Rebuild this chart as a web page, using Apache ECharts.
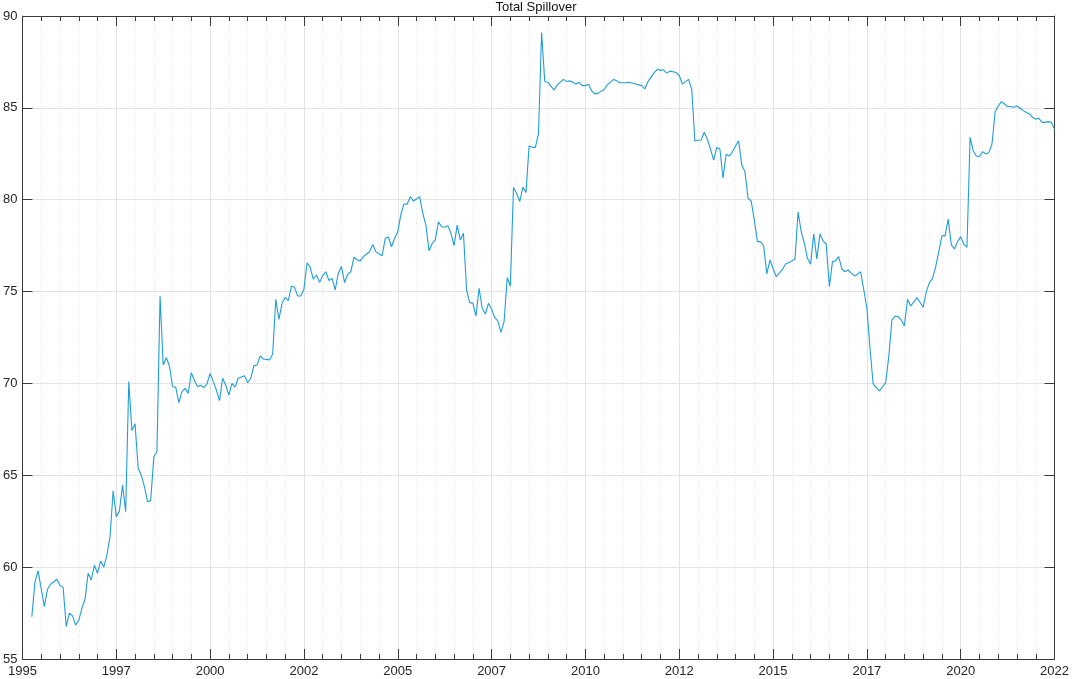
<!DOCTYPE html>
<html>
<head>
<meta charset="utf-8">
<script src="https://cdn.jsdelivr.net/npm/echarts@6/dist/echarts.min.js"></script>
<style>
html,body{margin:0;padding:0;background:#fff;}
#chart{width:1072px;height:679px;}
</style>
</head>
<body>
<div id="chart"></div>
<script>
const titleText = "Total Spillover";
const dates = [
"1995-04","1995-05","1995-06","1995-08","1995-09","1995-10","1995-12",
"1996-01","1996-02","1996-03","1996-04","1996-05","1996-06","1996-07","1996-08","1996-09","1996-10","1996-11","1996-12",
"1997-01","1997-02","1997-03","1997-04","1997-05","1997-06","1997-07","1997-08","1997-09","1997-10","1997-11","1997-12",
"1998-01","1998-02","1998-03","1998-04","1998-05","1998-06","1998-07","1998-08","1998-09","1998-10","1998-11","1998-12",
"1999-01","1999-02","1999-03","1999-04","1999-05","1999-06","1999-07","1999-08","1999-09","1999-10","1999-11","1999-12",
"2000-01","2000-02","2000-03","2000-04","2000-05","2000-06","2000-07","2000-08","2000-09","2000-10","2000-12",
"2001-01","2001-02","2001-03","2001-04","2001-05","2001-06","2001-08","2001-09","2001-10","2001-11","2001-12",
"2002-01","2002-02","2002-03","2002-04","2002-05","2002-06","2002-07","2002-08","2002-09","2002-10","2002-11","2002-12",
"2003-01","2003-02","2003-03","2003-04","2003-05","2003-06","2003-07","2003-08","2003-09","2003-10","2003-11","2003-12",
"2004-01","2004-02","2004-03","2004-04","2004-05","2004-06","2004-07","2004-08","2004-09","2004-10","2004-11","2004-12",
"2005-01","2005-02","2005-03","2005-04","2005-05","2005-06","2005-07","2005-08","2005-09","2005-10","2005-11","2005-12",
"2006-01","2006-02","2006-03","2006-04","2006-05","2006-06","2006-07","2006-08","2006-09","2006-10","2006-11","2006-12",
"2007-01","2007-02","2007-03","2007-04","2007-05","2007-06","2007-07","2007-08","2007-09","2007-10","2007-11","2007-12",
"2008-01","2008-02","2008-03","2008-04","2008-05","2008-06","2008-07","2008-08","2008-09","2008-10","2008-11","2008-12",
"2009-01","2009-03","2009-04","2009-06","2009-07","2009-08","2009-10","2009-11","2009-12",
"2010-01","2010-02","2010-03","2010-04","2010-05","2010-07","2010-08","2010-10","2010-11","2010-12",
"2011-02","2011-03","2011-05","2011-07","2011-08","2011-09","2011-11","2011-12",
"2012-01","2012-02","2012-03","2012-04","2012-06","2012-07","2012-08","2012-09","2012-10","2012-11","2012-12",
"2013-01","2013-02","2013-03","2013-04","2013-05","2013-06","2013-07","2013-08","2013-09","2013-10","2013-11","2013-12",
"2014-01","2014-02","2014-03","2014-04","2014-05","2014-06","2014-07","2014-08","2014-09","2014-10","2014-11","2014-12",
"2015-01","2015-02","2015-03","2015-04","2015-05","2015-06","2015-07","2015-08","2015-09","2015-10","2015-11","2015-12",
"2016-01","2016-02","2016-03","2016-04","2016-05","2016-06","2016-07","2016-08","2016-09","2016-10","2016-11","2016-12",
"2017-01","2017-02","2017-03","2017-04","2017-05","2017-06","2017-07","2017-08","2017-09","2017-10","2017-11",
"2018-01","2018-02","2018-03","2018-04","2018-05","2018-06","2018-07","2018-08","2018-09","2018-10","2018-11","2018-12",
"2019-01","2019-02","2019-03","2019-04","2019-05","2019-06","2019-07","2019-08","2019-09","2019-10","2019-11","2019-12",
"2020-01","2020-02","2020-03","2020-04","2020-05","2020-06","2020-07","2020-08","2020-09","2020-10","2020-11","2020-12",
"2021-01","2021-02","2021-03","2021-04","2021-05","2021-06","2021-07","2021-08","2021-09","2021-10","2021-11","2021-12",
"2022-01","2022-02","2022-03","2022-04","2022-05","2022-06","2022-07"
];
const spillover = [
57.3,59.2,59.8,57.85,58.8,59.07,59.34,
59.0,58.9,56.76,57.5,57.35,56.85,57.1,57.76,58.25,59.67,59.3,60.1,
59.67,60.33,60.0,60.66,61.65,64.16,62.75,63.05,64.47,63.02,70.1,67.43,
67.8,65.38,65.0,64.38,63.56,63.62,66.0,66.28,74.76,71.0,71.4,70.95,
69.82,69.8,68.95,69.55,69.73,69.46,70.58,70.15,69.82,69.9,69.77,69.97,
70.55,70.1,69.64,69.06,70.28,69.9,69.37,70.0,69.8,70.28,70.42,
70.04,70.28,70.97,71.0,71.5,71.33,71.28,71.6,74.58,73.49,74.36,
74.69,74.5,75.3,75.23,74.76,74.76,75.13,76.57,76.32,75.67,75.9,75.5,
75.87,76.08,75.6,75.72,75.09,76.0,76.36,75.49,75.94,76.08,76.87,76.72,
76.67,76.9,77.03,77.17,77.57,77.17,77.05,76.95,77.9,77.97,77.44,77.9,
78.26,79.2,79.77,79.75,80.17,79.93,80.04,80.17,79.26,78.62,77.22,77.62,
77.81,78.8,78.53,78.5,78.59,78.17,77.5,78.62,77.81,78.17,75.09,74.4,
74.37,73.67,75.18,74.09,73.78,74.36,74.05,73.58,73.4,72.78,73.36,75.76,
75.3,80.66,80.35,79.9,80.68,80.4,82.93,82.85,82.85,83.6,89.1,86.43,
86.39,85.97,86.25,86.55,86.43,86.47,86.3,86.39,86.21,
86.21,86.29,85.92,85.76,85.79,86.0,86.25,86.55,86.47,86.37,
86.37,86.39,86.3,86.21,86.03,86.43,86.92,87.1,
87.04,87.07,86.89,87.0,86.92,86.76,86.3,86.43,86.55,86.0,83.2,
83.24,83.25,83.67,83.29,82.75,82.16,82.84,82.76,81.17,82.47,82.38,82.6,
82.93,83.2,81.89,81.53,80.08,79.93,78.9,77.72,77.72,77.48,75.96,76.72,
76.27,75.81,76.0,76.21,76.5,76.57,76.67,76.76,79.32,78.26,77.63,76.81,
76.49,78.14,76.78,78.14,77.75,77.59,75.27,76.63,76.68,76.9,76.23,76.08,
76.18,76.0,75.85,75.94,76.08,75.1,74.1,71.9,69.97,69.77,69.59,
70.04,71.46,73.45,73.67,73.63,73.45,73.13,74.58,74.22,74.42,74.67,74.42,
74.15,75.0,75.49,75.72,76.36,77.17,78.05,78.03,78.94,77.54,77.32,77.72,
77.99,77.58,77.41,83.4,82.67,82.38,82.34,82.62,82.49,82.56,83.03,84.79,
85.1,85.34,85.21,85.07,85.07,85.03,85.1,84.98,84.85,84.75,84.67,84.47,
84.38,84.43,84.21,84.21,84.25,84.21,83.83
];
const xTickStart = 1995, xTickEnd = 2022.5, xTickStep = 2.5;
const yTickStart = 55, yTickEnd = 90, yTickStep = 5;

function toYear(s){ const p = s.split('-'); return +p[0] + (+p[1]-1)/12; }
const seriesData = dates.map((d,i)=>[toYear(d), spillover[i]]);

const font = '"Liberation Sans", Arial, Helvetica, sans-serif';
const axisCol = '#3a3a3a';
const gridCol = '#e3e3e3';
const minorCol = '#e6e6e6';

const chart = echarts.init(document.getElementById('chart'), null, {renderer:'canvas'});
const baseX = {
  type:'value', min:xTickStart, max:xTickEnd, interval:xTickStep,
  axisLine:{show:true, onZero:false, lineStyle:{color:axisCol, width:1}},
  axisTick:{show:true, inside:true, length:10, lineStyle:{color:axisCol}},
  minorTick:{show:true, splitNumber:5, length:5, lineStyle:{color:axisCol}},
};
const baseY = {
  type:'value', min:yTickStart, max:yTickEnd, interval:yTickStep,
  axisLine:{show:true, onZero:false, lineStyle:{color:axisCol, width:1}},
  axisTick:{show:true, inside:true, length:10, lineStyle:{color:axisCol}},
};
chart.setOption({
  animation:false,
  backgroundColor:'#ffffff',
  title:{text:titleText, left:'center', top:1, padding:0,
    textStyle:{fontFamily:font, fontSize:13, fontWeight:'normal', color:'#111'}},
  grid:{left:21, right:15, top:16, bottom:20, containLabel:false},
  xAxis:[
    Object.assign({}, baseX, {position:'bottom',
      axisLabel:{show:true, margin:6, color:'#262626', fontFamily:font, fontSize:13,
        formatter:(v)=>String(Math.floor(v))},
      splitLine:{show:true, lineStyle:{color:gridCol, width:1}},
      minorSplitLine:{show:true, lineStyle:{color:minorCol, width:1, type:[1,2]}}
    }),
    Object.assign({}, baseX, {position:'top', axisLabel:{show:false}, splitLine:{show:false}})
  ],
  yAxis:[
    Object.assign({}, baseY, {position:'left',
      axisLabel:{show:true, margin:5, color:'#262626', fontFamily:font, fontSize:13},
      splitLine:{show:true, lineStyle:{color:gridCol, width:1}}
    }),
    Object.assign({}, baseY, {position:'right', axisLabel:{show:false}, splitLine:{show:false}})
  ],
  series:[{
    type:'line', data:seriesData, xAxisIndex:0, yAxisIndex:0,
    showSymbol:false, symbol:'none',
    lineStyle:{color:'#1f9dd8', width:1.1},
    z:5
  }]
});
</script>
</body>
</html>
